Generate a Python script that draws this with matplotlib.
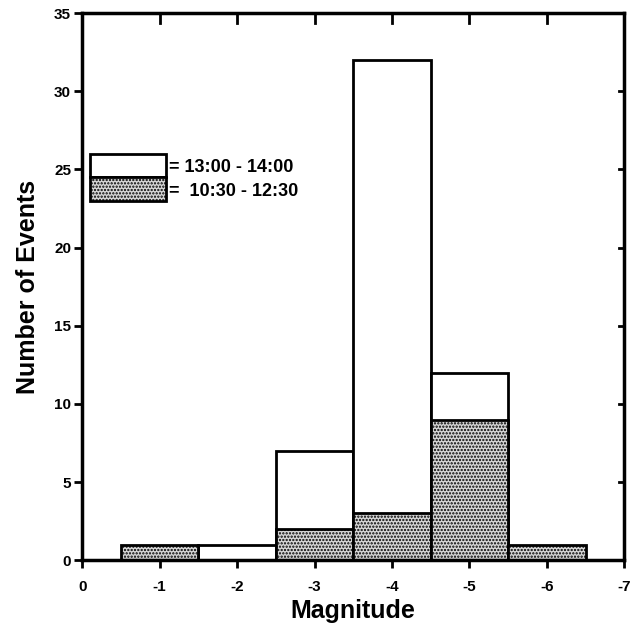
import matplotlib.pyplot as plt
from matplotlib.patches import Rectangle

magnitude = [-1, -2, -3, -4, -5, -6]
late = [0, 1, 7, 32, 12, 0]      # 13:00-14:00
early = [1, 0, 2, 3, 9, 1]       # 10:30-12:30
xticks = [0, -1, -2, -3, -4, -5, -6, -7]
yticks = [0, 5, 10, 15, 20, 25, 30, 35]

plt.rcParams['font.family'] = 'Liberation Sans'
plt.rcParams['font.weight'] = 'bold'
plt.rcParams['hatch.linewidth'] = 1.1

fig = plt.figure(figsize=(6.32, 6.28), dpi=100)
ax = fig.add_axes([0.130, 0.108, 0.858, 0.871])

stip = '#d6d6d6'
ax.bar(magnitude, late, width=1, color='white', edgecolor='black', linewidth=2)
ax.bar(magnitude, early, width=1, color=stip, edgecolor='black', linewidth=2, hatch='.....')

ax.set_xlim(0, -7)
ax.set_ylim(0, 35)
ax.set_xticks(xticks)
ax.set_xticklabels([str(t) for t in xticks], fontsize=11, fontweight='bold')
ax.set_yticks(yticks)
ax.set_yticklabels([str(t) for t in yticks], fontsize=11, fontweight='bold')
ax.tick_params(axis='x', direction='out', length=6, width=2, pad=8)
ax.tick_params(axis='y', direction='out', length=6, width=2, pad=2)

for s in ax.spines.values():
    s.set_linewidth(2.5)

# inward ticks on top and right
for x in xticks[1:-1]:
    ax.plot([x, x], [35, 34.4], color='black', lw=2, clip_on=False)
for y in yticks[1:-1]:
    ax.plot([-7, -6.93], [y, y], color='black', lw=2, clip_on=False)

# legend box
ax.add_patch(Rectangle((-0.1, 24.5), -0.98, 1.5, facecolor='white', edgecolor='black', lw=2))
ax.add_patch(Rectangle((-0.1, 23.0), -0.98, 1.5, facecolor=stip, edgecolor='black', lw=2, hatch='.....'))
ax.text(-1.12, 25.1, '= 13:00 - 14:00', fontsize=13, fontweight='bold', va='center', ha='left')
ax.text(-1.12, 23.6, '=  10:30 - 12:30', fontsize=13, fontweight='bold', va='center', ha='left')

ax.set_xlabel('Magnitude', fontsize=18, fontweight='bold', labelpad=4)
ax.set_ylabel('Number of Events', fontsize=18, fontweight='bold', labelpad=10)

fig.savefig('out.png', dpi=100)
